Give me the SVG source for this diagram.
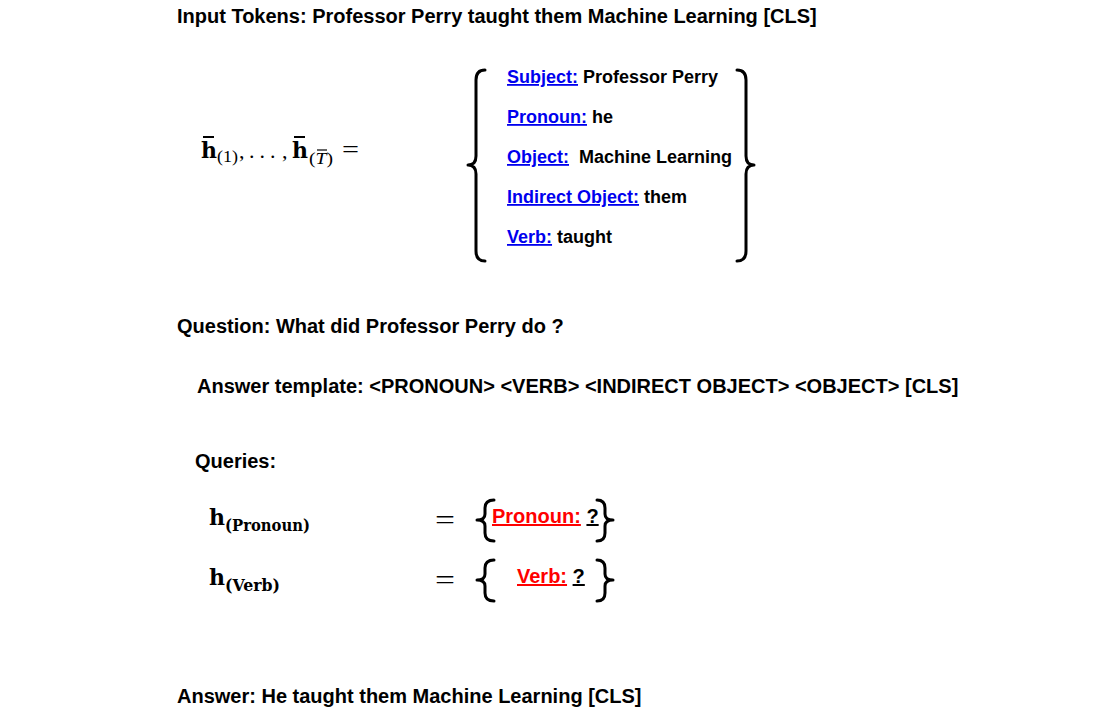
<svg xmlns="http://www.w3.org/2000/svg" width="1106" height="711" viewBox="0 0 1106 711">
<style>
.t{font-family:"Liberation Sans",Arial,sans-serif;font-weight:bold;font-size:20px;fill:#000}
.s{font-family:"Liberation Sans",Arial,sans-serif;font-weight:bold;font-size:18px;fill:#000}
.lb{fill:#0000ee;text-decoration:underline}
.lr{fill:#ff0000;text-decoration:underline}
.m{font-family:"Liberation Serif","Times New Roman",serif;fill:#000}
.d{font-family:"DejaVu Serif",serif;fill:#000}
.mb{font-family:"DejaVu Serif",serif;font-weight:bold;fill:#000}
.br{fill:none;stroke:#000;stroke-width:3;stroke-linecap:round;stroke-linejoin:round}
</style>
<rect width="1106" height="711" fill="#fff"/>
<g id="input"><text class="t" x="177" y="23">Input Tokens: Professor Perry taught them Machine Learning [CLS]</text></g>
<g id="hbar">
<text class="mb" x="201" y="158" font-size="22">h</text>
<line x1="203" y1="137" x2="214" y2="137" stroke="#000" stroke-width="2"/>
<text class="m" x="217" y="162" font-size="17" textLength="21" lengthAdjust="spacingAndGlyphs">(1)</text>
<text class="m" x="239" y="158" font-size="22">,</text>
<text class="m" x="249" y="158" font-size="22" letter-spacing="5">...</text>
<text class="m" x="282" y="158" font-size="22">,</text>
<text class="mb" x="292" y="158" font-size="22">h</text>
<line x1="294" y1="137" x2="305" y2="137" stroke="#000" stroke-width="2"/>
<text class="m" x="309" y="164" font-size="17" textLength="24" lengthAdjust="spacingAndGlyphs">(<tspan font-style="italic">T</tspan>)</text>
<line x1="317" y1="150" x2="327" y2="150" stroke="#000" stroke-width="1.2"/>
<text class="m" x="342" y="157" font-size="24" textLength="17" lengthAdjust="spacingAndGlyphs">=</text>
</g>
<g id="roles">
<path class="br" d="M485,70 Q476,70 476,80 L476,156 Q476,165 468,165 Q476,165 476,174 L476,251 Q476,261 485,261"/>
<path class="br" d="M737,70 Q746,70 746,80 L746,156 Q746,165 754,165 Q746,165 746,174 L746,251 Q746,261 737,261"/>
<text class="s" x="507" y="83"><tspan class="lb">Subject:</tspan> Professor Perry</text>
<text class="s" x="507" y="123"><tspan class="lb">Pronoun:</tspan> he</text>
<text class="s" x="507" y="163"><tspan class="lb">Object:</tspan>  <tspan x="579">Machine Learning</tspan></text>
<text class="s" x="507" y="203"><tspan class="lb">Indirect Object:</tspan> them</text>
<text class="s" x="507" y="243"><tspan class="lb">Verb:</tspan> taught</text>
</g>
<g id="question"><text class="t" x="177" y="333">Question: What did Professor Perry do ?</text></g>
<g id="template"><text class="t" x="197" y="393">Answer template: &lt;PRONOUN&gt; &lt;VERB&gt; &lt;INDIRECT OBJECT&gt; &lt;OBJECT&gt; [CLS]</text></g>
<g id="queries"><text class="t" x="195" y="468">Queries:</text></g>
<g id="q-pronoun">
<text class="mb" x="209" y="525" font-size="22">h</text>
<text class="mb" x="225" y="531" font-size="16" textLength="85" lengthAdjust="spacingAndGlyphs">(Pronoun)</text>
<text class="m" x="435" y="529" font-size="28" textLength="20" lengthAdjust="spacingAndGlyphs">=</text>
<path class="br" d="M494,500 Q485,500 485,508 L485,514 Q485,520 477,520 Q485,520 485,526 L485,533 Q485,541 494,541"/>
<path class="br" d="M597,500 Q605,500 605,508 L605,514 Q605,520 613,520 Q605,520 605,526 L605,533 Q605,541 597,541"/>
<text class="t" x="492" y="523"><tspan class="lr">Pronoun:</tspan> <tspan text-decoration="underline">?</tspan></text>
</g>
<g id="q-verb">
<text class="mb" x="209" y="585" font-size="22">h</text>
<text class="mb" x="225" y="591" font-size="16" textLength="55" lengthAdjust="spacingAndGlyphs">(Verb)</text>
<text class="m" x="435" y="589" font-size="28" textLength="20" lengthAdjust="spacingAndGlyphs">=</text>
<path class="br" d="M494,560 Q485,560 485,568 L485,574 Q485,580 477,580 Q485,580 485,586 L485,593 Q485,601 494,601"/>
<path class="br" d="M597,560 Q605,560 605,568 L605,574 Q605,580 613,580 Q605,580 605,586 L605,593 Q605,601 597,601"/>
<text class="t" x="517" y="583"><tspan class="lr">Verb:</tspan> <tspan text-decoration="underline">?</tspan></text>
</g>
<g id="answer"><text class="t" x="177" y="703">Answer: He taught them Machine Learning [CLS]</text></g>
<g id="connectors"/>
</svg>
